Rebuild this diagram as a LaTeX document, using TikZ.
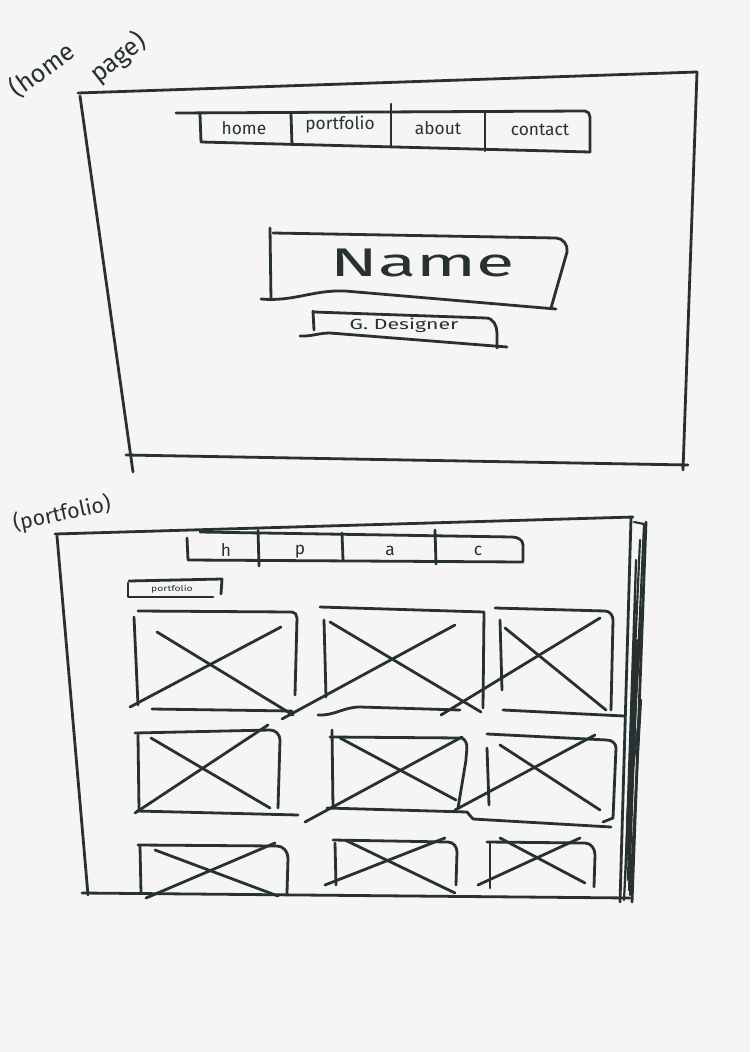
\documentclass[tikz,border=0pt]{standalone}
\usepackage{fontspec}
\setmainfont{Fira Sans}
\begin{document}
\begin{tikzpicture}[x=0.75pt,y=-0.75pt,
  ink/.style={draw=inkc,line width=2.1pt,line cap=round,line join=round},
  thinink/.style={draw=inkc,line width=1.6pt,line cap=round,line join=round},
  lbl/.style={text=inkc,inner sep=0pt,font=\fontsize{13}{15}\selectfont}]
\definecolor{inkc}{HTML}{283131}
\definecolor{paper}{HTML}{F5F5F3}
\fill[paper] (0,0) rectangle (750,1052);
\useasboundingbox (0,0) rectangle (750,1052);

% ---------- home page wireframe ----------
\node[lbl,rotate=36,font=\fontsize{19}{21}\selectfont] (homelbl) at (42,70) {(home};
\node[lbl,rotate=38,font=\fontsize{19}{21}\selectfont] (pagelbl) at (118,58) {page)};
% outer frame
\draw[ink] (78,93) -- (697,72);
\draw[ink] (80,96) -- (133,472);
\draw[ink] (697,72) -- (683,470);
\draw[ink] (126,455) -- (688,465);
% navigation bar
\draw[ink] (176,113) -- (585,111) to[out=0,in=90] (590,117) -- (590,152);
\draw[ink] (200,114) -- (201,142) -- (590,152);
\draw[ink] (291,114) -- (292,145);
\draw[ink] (391,104) -- (391,147);
\draw[ink] (485,112) -- (485,151);
\node[lbl] (nhome) at (244,128) {home};
\node[lbl] (nport) at (340,125) {portfolio};
\node[lbl] (nabout) at (438,128) {about};
\node[lbl] (ncont) at (540,130) {contact};
% name banner
\draw[ink] (270,228) -- (271,300);
\draw[ink] (273,233) -- (556,238) to[out=0,in=80] (567,252) -- (551,308);
\draw[ink] (261,299) to[out=-5,in=178] (345,291) -- (556,309);
\node[lbl,font=\fontsize{30}{32}\selectfont,xscale=1.75,transform shape] (name) at (423,263) {Name};
% designer tag
\draw[ink] (313,311) -- (314,330);
\draw[ink] (314,312) -- (486,318) to[out=0,in=90] (497,333) -- (497,348);
\draw[ink] (300,336) to[out=-3,in=180] (330,333) -- (507,347);
\node[lbl,font=\fontsize{11}{13}\selectfont,xscale=1.45,transform shape] (desig) at (404,325) {G. Designer};

% ---------- portfolio wireframe ----------
\node[lbl,rotate=12,font=\fontsize{16}{18}\selectfont] (portlbl) at (62,514) {(portfolio)};
% outer frame
\draw[ink] (55,534) -- (633,517);
\draw[ink] (57,536) -- (88,895);
\draw[ink] (82,893) -- (630,898);
% scroll bar, hatched
\draw[ink] (631,518) -- (620,902);
\draw[ink] (646,522) -- (632,902);
\draw[thinink] (634,522) -- (644,524) -- (628,880) -- (636,560) -- (626,860);
\draw[thinink] (640,540) -- (624,900) -- (638,640) -- (629,890);
\draw[thinink] (643,600) -- (627,820) -- (641,700) -- (630,895);
% navigation bar
\draw[ink] (200,532) -- (512,537) to[out=0,in=90] (523,545) -- (523,561);
\draw[ink] (187,538) -- (188,560) -- (523,562);
\draw[ink] (258,530) -- (259,566);
\draw[ink] (342,533) -- (343,560);
\draw[ink] (435,530) -- (436,564);
\node[lbl] (sh) at (226,550) {h};
\node[lbl] (sp) at (300,552) {p};
\node[lbl] (sa) at (390,551) {a};
\node[lbl] (sc) at (478,551) {c};
% section heading
\draw[ink] (129,581) -- (222,579) -- (221,594);
\draw[ink] (128,583) -- (128,597) -- (213,597);
\node[lbl,font=\fontsize{6}{7}\selectfont,xscale=1.3,transform shape] (sect) at (172,589) {portfolio};

% image placeholders, row 1
\draw[ink] (138,611) -- (292,612) to[out=0,in=90] (297,618) -- (295,695);
\draw[ink] (134,617) -- (138,705);
\draw[ink] (152,709) -- (292,711);
\draw[ink] (157,632) -- (293,715);
\draw[ink] (130,707) -- (281,627);
\draw[ink] (320,607) -- (484,612) -- (483,708);
\draw[ink] (324,620) -- (326,697);
\draw[ink] (318,715) to[out=-3,in=180] (360,707) -- (460,710);
\draw[ink] (330,622) -- (481,712);
\draw[ink] (282,719) -- (455,625);
\draw[ink] (495,608) -- (605,611) to[out=0,in=90] (613,620) -- (611,710);
\draw[ink] (500,620) -- (502,690);
\draw[ink] (503,710) -- (624,716);
\draw[ink] (505,628) -- (606,710);
\draw[ink] (441,715) -- (600,618);

% image placeholders, row 2
\draw[ink] (135,733) -- (270,730) to[out=0,in=90] (280,740) -- (278,808);
\draw[ink] (138,735) -- (139,810);
\draw[ink] (137,811) -- (298,815);
\draw[ink] (151,738) -- (270,808);
\draw[ink] (135,813) -- (268,725);
\draw[ink] (330,737) -- (462,738) to[out=-30,in=90] (466,760) -- (458,808);
\draw[ink] (332,730) -- (333,808);
\draw[ink] (327,808) -- (467,812) -- (473,819) -- (611,827);
\draw[ink] (340,738) -- (456,800);
\draw[ink] (305,822) -- (462,737);
\draw[ink] (487,734) -- (607,740) to[out=0,in=90] (616,748) -- (613,818) -- (603,822);
\draw[ink] (487,748) -- (489,805);
\draw[ink] (500,745) -- (600,810);
\draw[ink] (455,810) -- (595,735);

% image placeholders, row 3
\draw[ink] (138,845) -- (277,846) to[out=0,in=90] (288,858) -- (287,893);
\draw[ink] (140,846) -- (141,893);
\draw[ink] (155,850) -- (278,896);
\draw[ink] (146,898) -- (275,843);
\draw[ink] (333,840) -- (448,842) to[out=0,in=90] (457,852) -- (456,885);
\draw[ink] (335,843) -- (336,885);
\draw[ink] (345,840) -- (455,893);
\draw[ink] (325,885) -- (445,838);
\draw[ink] (487,842) -- (585,843) to[out=0,in=90] (595,855) -- (594,887);
\draw[ink] (490,843) -- (490,888);
\draw[ink] (500,838) -- (585,883);
\draw[ink] (478,885) -- (580,838);
\end{tikzpicture}
\end{document}
